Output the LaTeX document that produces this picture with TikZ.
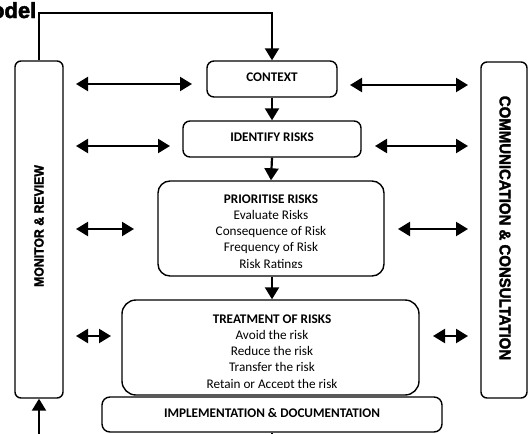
\documentclass[tikz,border=0pt]{standalone}
\usepackage{fontspec}
\setmainfont{Carlito}
\newfontfamily\arialb{Liberation Sans}[BoldFeatures={FakeBold=2.2}]
\usetikzlibrary{arrows.meta}
\tikzset{
  box/.style={draw, line width=1.4pt, inner sep=0pt},
  lbl/.style={inner sep=0pt, anchor=base, font=\fontsize{13.2}{14}\selectfont},
  ttl/.style={lbl, font=\fontsize{13.2}{14}\selectfont\bfseries},
  side/.style={inner sep=0pt},
  conn/.style={line width=2.2pt, -{Triangle[length=12pt,width=14pt]}},
  dbl/.style={line width=2.2pt, {Triangle[length=12pt,width=14pt]}-{Triangle[length=12pt,width=14pt]}}
}
\begin{document}
\begin{tikzpicture}[x=1pt,y=-1pt]
\useasboundingbox (0,0) rectangle (528,434);
% boxes
\node[box, rounded corners=6pt, minimum width=48pt, minimum height=337pt] (monitor) at (39,229.5) {};
\node[box, rounded corners=6pt, minimum width=46pt, minimum height=336pt] (comm) at (504,230) {};
\node[box, rounded corners=7pt, minimum width=130pt, minimum height=36pt] (context) at (272,79) {};
\node[box, rounded corners=7pt, minimum width=178pt, minimum height=36pt] (identify) at (272,139) {};
\node[box, rounded corners=12pt, minimum width=226pt, minimum height=95pt] (prior) at (271,228.5) {};
\node[box, rounded corners=14pt, minimum width=297pt, minimum height=95pt] (treat) at (270.5,347.5) {};
\node[box, rounded corners=8pt, minimum width=340pt, minimum height=35pt] (impl) at (272,414.5) {};
% side labels
\node[side, rotate=90] (monitortxt) at (39,226) {\arialb\bfseries\fontsize{13.2}{14}\selectfont\scalebox{0.93}[1]{MONITOR \& REVIEW}};
\node[side, rotate=-90] (commtxt) at (505,228) {\arialb\bfseries\fontsize{15.6}{16}\selectfont\scalebox{0.96}[1]{COMMUNICATION \& CONSULTATION}};
% title fragment
\node[inner sep=0pt, anchor=base east] (title) at (36.5,18) {\arialb\bfseries\fontsize{22}{22}\selectfont odel};
% box texts
\node[ttl] (contexttxt) at (272,81.7) {CONTEXT};
\node[ttl] (identifytxt) at (272,141.7) {IDENTIFY RISKS};
\node[ttl] (impltxt) at (272,417.3) {IMPLEMENTATION \& DOCUMENTATION};
\begin{scope}
\clip (150,180) rectangle (390,267);
\node[ttl] (p0) at (271,203) {PRIORITISE RISKS};
\node[lbl] (p1) at (271,219.3) {Evaluate Risks};
\node[lbl] (p2) at (271,235.6) {Consequence of Risk};
\node[lbl] (p3) at (271,251.9) {Frequency of Risk};
\node[lbl] (p4) at (271,268.2) {Risk Ratings};
\end{scope}
\begin{scope}
\clip (115,300) rectangle (425,387.3);
\node[ttl] (t0) at (272,323) {TREATMENT OF RISKS};
\node[lbl] (t1) at (272,339.3) {Avoid the risk};
\node[lbl] (t2) at (272,355.6) {Reduce the risk};
\node[lbl] (t3) at (272,371.9) {Transfer the risk};
\node[lbl] (t4) at (272,388.2) {Retain or Accept the risk};
\end{scope}
% vertical flow
\draw[conn] (monitor.north) -- (monitor.north |- 0,13) -| (context.north);
\draw[conn] (context.south) -- (identify.north);
\draw[conn] (identify.south) -- (prior.north);
\draw[conn] (prior.south -| context.south) -- (treat.north -| context.south);
\coordinate (bot) at (39,434);
\draw[conn] (bot) -- (monitor.south);
\coordinate (implbot) at (272,434);
\draw[line width=1.2pt] (impl.south) -- (implbot);
% horizontal double arrows
\coordinate (l1a) at (76,84);  \coordinate (l1b) at (192,84);
\coordinate (r1a) at (350,85); \coordinate (r1b) at (468,85);
\coordinate (l2a) at (76,146); \coordinate (l2b) at (170,146);
\coordinate (r2a) at (375,146); \coordinate (r2b) at (468,146);
\coordinate (l3a) at (76,229); \coordinate (l3b) at (134,229);
\coordinate (r3a) at (398,229); \coordinate (r3b) at (468,229);
\coordinate (l4a) at (76,336); \coordinate (l4b) at (111,336);
\coordinate (r4a) at (433,336); \coordinate (r4b) at (468,336);
\draw[dbl] (l1a) -- (l1b);
\draw[dbl] (r1a) -- (r1b);
\draw[dbl] (l2a) -- (l2b);
\draw[dbl] (r2a) -- (r2b);
\draw[dbl] (l3a) -- (l3b);
\draw[dbl] (r3a) -- (r3b);
\draw[dbl] (l4a) -- (l4b);
\draw[dbl] (r4a) -- (r4b);
\end{tikzpicture}
\end{document}
